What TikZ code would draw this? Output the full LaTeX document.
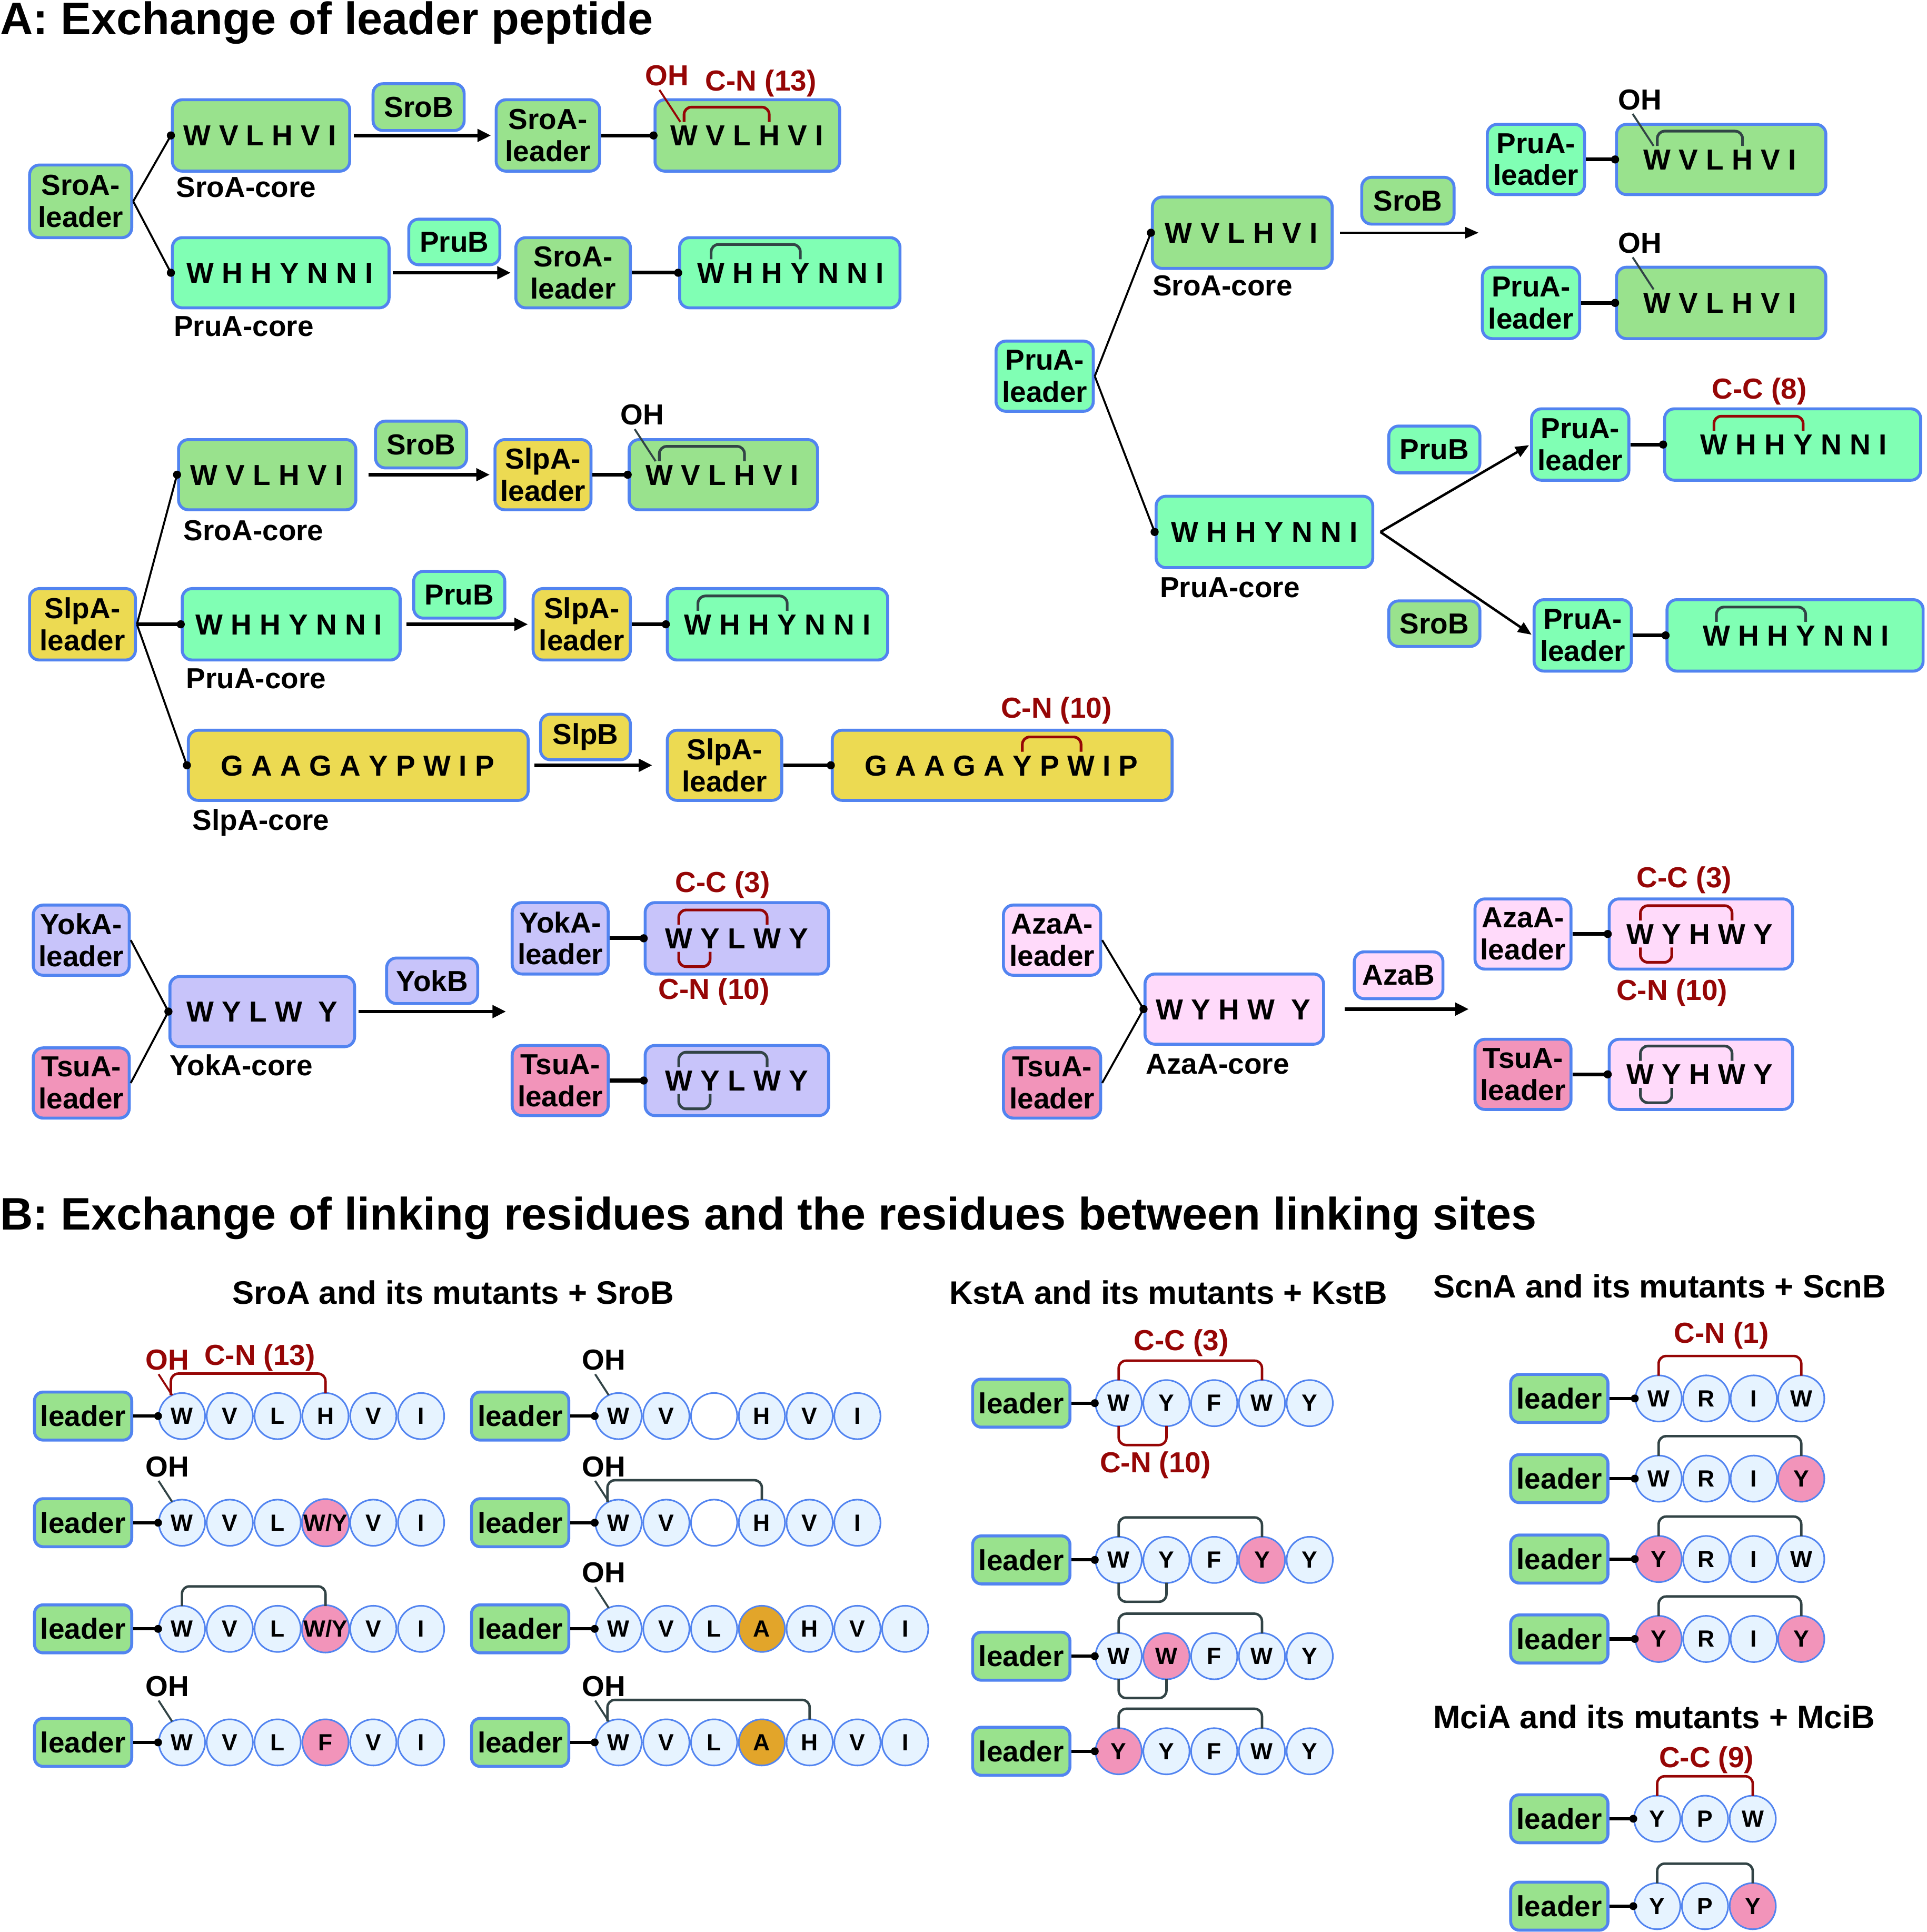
\documentclass[tikz,border=0pt]{standalone}
\usepackage{fontspec}
\setmainfont{Liberation Sans}
\usetikzlibrary{calc,arrows.meta}
\definecolor{bblue}{RGB}{82,132,240}
\definecolor{cgreen}{RGB}{153,226,141}
\definecolor{cmint}{RGB}{128,255,180}
\definecolor{cyellow}{RGB}{236,218,82}
\definecolor{clav}{RGB}{200,196,250}
\definecolor{cpinkl}{RGB}{255,218,250}
\definecolor{cpink}{RGB}{242,148,186}
\definecolor{corange}{RGB}{226,165,42}
\definecolor{ccirc}{RGB}{230,243,255}
\definecolor{dred}{RGB}{150,6,6}
\definecolor{dgray}{RGB}{50,68,70}
\newcommand\fA{\fontsize{23.5}{26}\selectfont\bfseries}
\newcommand\fT{\fontsize{37}{40}\selectfont\bfseries}
\newcommand\fS{\fontsize{26.4}{30}\selectfont\bfseries}
\newcommand\fC{\fontsize{19}{20}\selectfont\bfseries}
\newcommand\WY{W/Y}
% box by corners
\newcommand\BOX[7]{%
  \pgfmathsetmacro\bw{#5-#3}\pgfmathsetmacro\bh{#6-#4}%
  \node[box,fill=#2,minimum width=\bw pt,minimum height=\bh pt] (#1) at ({(#3+#5)/2},{(#4+#6)/2}) {#7};}
% peptide letters
\newcommand\PEP[4]{%
  \foreach \L [count=\i] in {#4} {%
    \ifnum\i=1\relax
      \node[pl,anchor=base west] (#1-\i) at (#2,#3+8.4) {\L};
    \else
      \pgfmathtruncatemacro\j{\i-1}%
      \node[pl,anchor=base west] (#1-\i) at ([xshift=6.53pt]#1-\j.base east) {\L};
    \fi}}
\newcommand\ATop[5]{%
  \draw[arcA,draw=#1] let \p1=(#2-#3.center),\p2=(#2-#4.center) in
    (\x1,{-(#5-11)*1pt}) -- (\x1,{-(#5-23)*1pt}) -- (\x2,{-(#5-23)*1pt}) -- (\x2,{-(#5-11)*1pt});}
\newcommand\ABot[5]{%
  \draw[arcA,draw=#1] let \p1=(#2-#3.center),\p2=(#2-#4.center) in
    (\x1,{-(#5+11)*1pt}) -- (\x1,{-(#5+23)*1pt}) -- (\x2,{-(#5+23)*1pt}) -- (\x2,{-(#5+11)*1pt});}
\newcommand\AOH[4]{%
  \path let \p1=(#3.center) in node[lbl,text=#1] (#3oh) at (\x1-14pt,{-(#4-48.5)*1pt}) {OH};
  \draw[ohline,draw=#2] let \p1=(#3.center) in (\x1-20pt,{-(#4-37)*1pt}) -- (\x1-3pt,{-(#4-11)*1pt});}
% part B
\newcommand\ROW[6]{%
  \node[leaderB] (#1-L) at (#2+39.5,#3) {leader};
  \foreach \L/\F [count=\i] in {#6} {%
    \node[circ,fill=\F] (#1-\i) at ({#4+(\i-1)*#5},#3) {\L};}
  \draw[conB] (#1-L.east) -- (#1-1.west);
  \fill (#1-1.west) circle (3.2pt);}
\newcommand\BTop[5]{%
  \draw[arcB,draw=#1] let \p1=(#2-#3.center),\p2=(#2-#4.center) in
    (\x1,{-(#5-18.5)*1pt}) -- (\x1,{-(#5-34.5)*1pt}) -- (\x2,{-(#5-34.5)*1pt}) -- (\x2,{-(#5-18.5)*1pt});}
\newcommand\BTopOH[5]{%
  \draw[arcB,draw=#1] let \p1=(#2-#3.center),\p2=(#2-#4.center) in
    (\x1-9pt,{-(#5-17)*1pt}) -- (\x1-9pt,{-(#5-34.5)*1pt}) -- (\x2,{-(#5-34.5)*1pt}) -- (\x2,{-(#5-18.5)*1pt});}
\newcommand\BBot[5]{%
  \draw[arcB,draw=#1] let \p1=(#2-#3.center),\p2=(#2-#4.center) in
    (\x1,{-(#5+18.5)*1pt}) -- (\x1,{-(#5+34)*1pt}) -- (\x2,{-(#5+34)*1pt}) -- (\x2,{-(#5+18.5)*1pt});}
\newcommand\BOH[4]{%
  \path let \p1=(#3-1.center) in node[lbl,text=#1] (#3-oh) at (\x1-12pt,{-(#4-45.5)*1pt}) {OH};
  \draw[ohline,draw=#2] let \p1=(#3-1.center) in (\x1-19pt,{-(#4-34)*1pt}) -- (\x1-8pt,{-(#4-17)*1pt});}

\begin{document}
\begin{tikzpicture}[x=1pt,y=-1pt,
  box/.style={draw=bblue,line width=2.4pt,rounded corners=8pt,inner sep=0pt,align=center,font=\fA},
  pl/.style={inner sep=0pt,outer sep=0pt,font=\fA},
  lbl/.style={inner sep=0pt,font=\fA},
  redl/.style={lbl,text=dred},
  arcA/.style={line width=2.2pt,rounded corners=6pt},
  arcB/.style={line width=2pt,rounded corners=6pt},
  ohline/.style={line width=1.6pt},
  tree/.style={line width=1.6pt},
  conn/.style={line width=3pt},
  arr/.style={line width=2.8pt,-{Triangle[length=11pt,width=10pt]}},
  arrt/.style={line width=2pt,-{Triangle[length=11pt,width=9pt]}},
  leaderB/.style={box,fill=cgreen,minimum width=79pt,minimum height=39pt,rounded corners=7pt},
  circ/.style={circle,draw=bblue,line width=1.3pt,minimum size=37.5pt,inner sep=0pt,font=\fC},
  conB/.style={line width=2.6pt}]
\useasboundingbox (0,0) rectangle (1565,1569);

% ================= A =================
\node[anchor=base west,inner sep=0pt,font=\fT] (tA) at (0,28) {A: Exchange of leader peptide};

% ---- SroA group
\BOX{aL}{cgreen}{24}{134}{107}{193}{SroA-\\leader}
\BOX{aC1}{cgreen}{140}{81}{284}{139}{}
\PEP{aC1}{149.2}{110}{W,V,L,H,V,I}
\BOX{aE1}{cgreen}{303}{68}{377}{106}{SroB}
\BOX{aL1}{cgreen}{403}{81}{487}{139}{SroA-\\leader}
\BOX{aP1}{cgreen}{532}{81}{682}{139}{}
\PEP{aP1}{544.5}{110}{W,V,L,H,V,I}
\BOX{aC2}{cmint}{140}{193}{316}{250}{}
\PEP{aC2}{151.7}{221.5}{W,H,H,Y,N,N,I}
\BOX{aE2}{cmint}{332}{178}{406}{215}{PruB}
\BOX{aL2}{cgreen}{419}{193}{512}{250}{SroA-\\leader}
\BOX{aP2}{cmint}{552}{193}{731}{250}{}
\PEP{aP2}{566.5}{221.5}{W,H,H,Y,N,N,I}
\node[lbl] (aC1t) at (200,152) {SroA-core};
\node[lbl] (aC2t) at (198,265) {PruA-core};
\draw[tree] (aL.east) -- (aC1.west);
\draw[tree] (aL.east) -- (aC2.west);
\fill (aC1.west) circle (3.3pt);
\fill (aC2.west) circle (3.3pt);
\draw[arr,shorten <=2pt,shorten >=3pt] (aC1.east) -- (aL1.west);
\draw[arr,shorten <=2pt,shorten >=3pt] (aC2.east) -- (aL2.west);
\draw[conn] (aL1.east) -- (aP1.west); \fill (aP1.west) circle (3.3pt);
\draw[conn] (aL2.east) -- (aP2.west); \fill (aP2.west) circle (3.3pt);
\ATop{dred}{aP1}{1}{4}{110}
\AOH{dred}{dred}{aP1-1}{110}
\node[redl] (aP1c) at (618,67.5) {C-N (13)};
\ATop{dgray}{aP2}{1}{4}{221.5}

% ---- PruA group
\BOX{bL}{cmint}{809}{277}{888}{334}{PruA-\\leader}
\BOX{bC1}{cgreen}{936}{160}{1082}{218}{}
\PEP{bC1}{946.3}{189}{W,V,L,H,V,I}
\BOX{bE1}{cgreen}{1106}{144}{1181}{182}{SroB}
\coordinate (bArr) at (1201,189);
\BOX{bL1}{cmint}{1208}{101}{1287}{158}{PruA-\\leader}
\BOX{bP1}{cgreen}{1313}{101}{1483}{158}{}
\PEP{bP1}{1335}{129.5}{W,V,L,H,V,I}
\BOX{bL2}{cmint}{1204}{217}{1283}{275}{PruA-\\leader}
\BOX{bP2}{cgreen}{1313}{217}{1483}{275}{}
\PEP{bP2}{1335}{246}{W,V,L,H,V,I}
\BOX{bC2}{cmint}{939}{403}{1115}{461}{}
\PEP{bC2}{951.2}{432}{W,H,H,Y,N,N,I}
\BOX{bE2}{cmint}{1128}{346}{1202}{384}{PruB}
\BOX{bE3}{cgreen}{1128}{488}{1202}{525}{SroB}
\BOX{bL3}{cmint}{1244}{332}{1323}{390}{PruA-\\leader}
\BOX{bP3}{cmint}{1352}{332}{1560}{390}{}
\PEP{bP3}{1381}{361}{W,H,H,Y,N,N,I}
\BOX{bL4}{cmint}{1246}{487}{1325}{545}{PruA-\\leader}
\BOX{bP4}{cmint}{1354}{487}{1562}{545}{}
\PEP{bP4}{1383}{516}{W,H,H,Y,N,N,I}
\node[lbl] (bC1t) at (993,232) {SroA-core};
\node[lbl] (bC2t) at (999,477) {PruA-core};
\draw[tree] (bL.east) -- (bC1.west);
\draw[tree] (bL.east) -- (bC2.west);
\fill (bC1.west) circle (3.3pt);
\fill (bC2.west) circle (3.3pt);
\draw[arrt,shorten <=5pt] (bC1.east) -- (bArr);
\coordinate (bFork) at ([xshift=5pt]bC2.east);
\draw[arrt,shorten >=1pt] (bFork) -- (bL3.west);
\draw[arrt,shorten >=1pt] (bFork) -- (bL4.west);
\draw[conn] (bL1.east) -- (bP1.west); \fill (bP1.west) circle (3.3pt);
\draw[conn] (bL2.east) -- (bP2.west); \fill (bP2.west) circle (3.3pt);
\draw[conn] (bL3.east) -- (bP3.west); \fill (bP3.west) circle (3.3pt);
\draw[conn] (bL4.east) -- (bP4.west); \fill (bP4.west) circle (3.3pt);
\ATop{dgray}{bP1}{1}{4}{129.5}
\AOH{black}{dgray}{bP1-1}{129.5}
\AOH{black}{dgray}{bP2-1}{246}
\ATop{dred}{bP3}{1}{4}{361}
\node[redl] (bP3c) at (1429,317.7) {C-C (8)};
\ATop{dgray}{bP4}{1}{4}{516}

% ---- SlpA group
\BOX{cL}{cyellow}{24}{478}{110}{536}{SlpA-\\leader}
\BOX{cC1}{cgreen}{145}{357}{289}{414}{}
\PEP{cC1}{154.5}{385.5}{W,V,L,H,V,I}
\BOX{cE1}{cgreen}{305}{342}{379}{380}{SroB}
\BOX{cL1}{cyellow}{402}{357}{480}{414}{SlpA-\\leader}
\BOX{cP1}{cgreen}{511}{357}{664}{414}{}
\PEP{cP1}{524.4}{385.5}{W,V,L,H,V,I}
\BOX{cC2}{cmint}{148}{478}{325}{536}{}
\PEP{cC2}{158.8}{507}{W,H,H,Y,N,N,I}
\BOX{cE2}{cmint}{336}{464}{410}{502}{PruB}
\BOX{cL2}{cyellow}{433}{478}{512}{536}{SlpA-\\leader}
\BOX{cP2}{cmint}{542}{478}{721}{536}{}
\PEP{cP2}{555.8}{507}{W,H,H,Y,N,N,I}
\BOX{cC3}{cyellow}{153}{593}{429}{650}{}
\PEP{cC3}{179.5}{621.5}{G,A,A,G,A,Y,P,W,I,P}
\BOX{cE3}{cyellow}{439}{580}{512}{617}{SlpB}
\BOX{cL3}{cyellow}{542}{593}{635}{650}{SlpA-\\leader}
\BOX{cP3}{cyellow}{676}{593}{952}{650}{}
\PEP{cP3}{702.4}{621.5}{G,A,A,G,A,Y,P,W,I,P}
\node[lbl] (cC1t) at (206,431) {SroA-core};
\node[lbl] (cC2t) at (208,551) {PruA-core};
\node[lbl] (cC3t) at (212,668) {SlpA-core};
\draw[tree] (cL.east) -- (cC1.west);
\draw[conn] (cL.east) -- (cC2.west);
\draw[tree] (cL.east) -- (cC3.west);
\fill (cC1.west) circle (3.3pt);
\fill (cC2.west) circle (3.3pt);
\fill (cC3.west) circle (3.3pt);
\draw[arr,shorten <=9pt,shorten >=3pt] (cC1.east) -- (cL1.west);
\draw[arr,shorten <=4pt,shorten >=3pt] (cC2.east) -- (cL2.west);
\draw[arr,shorten <=4pt,shorten >=11pt] (cC3.east) -- (cL3.west);
\draw[conn] (cL1.east) -- (cP1.west); \fill (cP1.west) circle (3.3pt);
\draw[conn] (cL2.east) -- (cP2.west); \fill (cP2.west) circle (3.3pt);
\draw[conn] (cL3.east) -- (cP3.west); \fill (cP3.west) circle (3.3pt);
\ATop{dgray}{cP1}{1}{4}{385.5}
\AOH{black}{dgray}{cP1-1}{385.5}
\ATop{dgray}{cP2}{1}{4}{507}
\ATop{dred}{cP3}{6}{8}{621.5}
\node[redl] (cP3c) at (858,577.2) {C-N (10)};

% ---- YokA group
\BOX{dL1}{clav}{27}{735}{105}{792}{YokA-\\leader}
\BOX{dL2}{cpink}{27}{851}{105}{908}{TsuA-\\leader}
\BOX{dC}{clav}{138}{793}{288}{850}{}
\PEP{dC}{151.5}{821.5}{W,Y,L,W,\hspace{6.5pt}Y}
\BOX{dE}{clav}{314}{778}{388}{815}{YokB}
\BOX{dL3}{clav}{416}{733}{494}{791}{YokA-\\leader}
\BOX{dP1}{clav}{524}{733}{673}{791}{}
\PEP{dP1}{540.2}{762}{W,Y,L,W,Y}
\BOX{dL4}{cpink}{416}{849}{494}{906}{TsuA-\\leader}
\BOX{dP2}{clav}{524}{849}{673}{906}{}
\PEP{dP2}{540.2}{877.5}{W,Y,L,W,Y}
\node[lbl] (dCt) at (196,865) {YokA-core};
\draw[tree] (dL1.east) -- (dC.west);
\draw[tree] (dL2.east) -- (dC.west);
\fill (dC.west) circle (3.3pt);
\coordinate (dArr) at (411,821.5);
\draw[arr,shorten <=2pt] (dC.east) -- (dArr);
\draw[conn] (dL3.east) -- (dP1.west); \fill (dP1.west) circle (3.3pt);
\draw[conn] (dL4.east) -- (dP2.west); \fill (dP2.west) circle (3.3pt);
\ATop{dred}{dP1}{1}{4}{762}
\ABot{dred}{dP1}{1}{2}{762}
\node[redl] (dP1c) at (587,718.5) {C-C (3)};
\node[redl] (dP1n) at (580,805.5) {C-N (10)};
\ATop{dgray}{dP2}{1}{4}{877.5}
\ABot{dgray}{dP2}{1}{2}{877.5}

% ---- AzaA group
\BOX{eL1}{cpinkl}{815}{735}{894}{792}{AzaA-\\leader}
\BOX{eL2}{cpink}{815}{851}{894}{908}{TsuA-\\leader}
\BOX{eC}{cpinkl}{930}{791}{1075}{848}{}
\PEP{eC}{939}{819.5}{W,Y,H,W,\hspace{6.5pt}Y}
\BOX{eE}{cpinkl}{1100}{773}{1172}{811}{AzaB}
\BOX{eL3}{cpinkl}{1198}{730}{1276}{787}{AzaA-\\leader}
\BOX{eP1}{cpinkl}{1307}{730}{1456}{787}{}
\PEP{eP1}{1321.3}{758.5}{W,Y,H,W,Y}
\BOX{eL4}{cpink}{1198}{844}{1276}{901}{TsuA-\\leader}
\BOX{eP2}{cpinkl}{1307}{844}{1456}{901}{}
\PEP{eP2}{1321.3}{872.5}{W,Y,H,W,Y}
\node[lbl] (eCt) at (989,864) {AzaA-core};
\draw[tree] (eL1.east) -- (eC.west);
\draw[tree] (eL2.east) -- (eC.west);
\fill (eC.west) circle (3.3pt);
\coordinate (eArr) at (1193,819.5);
\draw[arr,shorten <=16pt] (eC.east) -- (eArr);
\draw[conn] (eL3.east) -- (eP1.west); \fill (eP1.west) circle (3.3pt);
\draw[conn] (eL4.east) -- (eP2.west); \fill (eP2.west) circle (3.3pt);
\ATop{dred}{eP1}{1}{4}{758.5}
\ABot{dred}{eP1}{1}{2}{758.5}
\node[redl] (eP1c) at (1368,714.8) {C-C (3)};
\node[redl] (eP1n) at (1358,806.3) {C-N (10)};
\ATop{dgray}{eP2}{1}{4}{872.5}
\ABot{dgray}{eP2}{1}{2}{872.5}

% ================= B =================
\node[anchor=base west,inner sep=0pt,font=\fT] (tB) at (0,998.7) {B: Exchange of linking residues and the residues between linking sites};
\node[anchor=base,inner sep=0pt,font=\fS] (sB1) at (368,1059) {SroA and its mutants + SroB};
\node[anchor=base,inner sep=0pt,font=\fS] (sB2) at (949,1059) {KstA and its mutants + KstB};
\node[anchor=base,inner sep=0pt,font=\fS] (sB3) at (1348,1054) {ScnA and its mutants + ScnB};
\node[anchor=base,inner sep=0pt,font=\fS] (sB4) at (1343.5,1403.5) {MciA and its mutants + MciB};

% SroA mutants, left column
\ROW{s1}{28}{1150}{147.8}{38.85}{W/ccirc,V/ccirc,L/ccirc,H/ccirc,V/ccirc,I/ccirc}
\ROW{s2}{28}{1236.6}{147.8}{38.85}{W/ccirc,V/ccirc,L/ccirc,\WY/cpink,V/ccirc,I/ccirc}
\ROW{s3}{28}{1322.8}{147.8}{38.85}{W/ccirc,V/ccirc,L/ccirc,\WY/cpink,V/ccirc,I/ccirc}
\ROW{s4}{28}{1415}{147.8}{38.85}{W/ccirc,V/ccirc,L/ccirc,F/cpink,V/ccirc,I/ccirc}
\BOH{dred}{dred}{s1}{1150}
\BTopOH{dred}{s1}{1}{4}{1150}
\node[redl] (s1c) at (211,1102.5) {C-N (13)};
\BOH{black}{dgray}{s2}{1236.6}
\BTop{dgray}{s3}{1}{4}{1322.8}
\BOH{black}{dgray}{s4}{1415}
% right column
\ROW{t1}{383}{1150}{502.4}{38.8}{W/ccirc,V/ccirc,{}/white,H/ccirc,V/ccirc,I/ccirc}
\ROW{t2}{383}{1236.6}{502.4}{38.8}{W/ccirc,V/ccirc,{}/white,H/ccirc,V/ccirc,I/ccirc}
\ROW{t3}{383}{1322.8}{502.4}{38.8}{W/ccirc,V/ccirc,L/ccirc,A/corange,H/ccirc,V/ccirc,I/ccirc}
\ROW{t4}{383}{1415}{502.4}{38.8}{W/ccirc,V/ccirc,L/ccirc,A/corange,H/ccirc,V/ccirc,I/ccirc}
\BOH{black}{dgray}{t1}{1150}
\BOH{black}{dgray}{t2}{1236.6}
\BTopOH{dgray}{t2}{1}{4}{1236.6}
\BOH{black}{dgray}{t3}{1322.8}
\BOH{black}{dgray}{t4}{1415}
\BTopOH{dgray}{t4}{1}{5}{1415}

% KstA
\ROW{k1}{790}{1139.5}{908.6}{38.8}{W/ccirc,Y/ccirc,F/ccirc,W/ccirc,Y/ccirc}
\ROW{k2}{790}{1266.8}{908.6}{38.8}{W/ccirc,Y/ccirc,F/ccirc,Y/cpink,Y/ccirc}
\ROW{k3}{790}{1345}{908.6}{38.8}{W/ccirc,W/cpink,F/ccirc,W/ccirc,Y/ccirc}
\ROW{k4}{790}{1422.2}{908.6}{38.8}{Y/cpink,Y/ccirc,F/ccirc,W/ccirc,Y/ccirc}
\BTop{dred}{k1}{1}{4}{1139.5}
\BBot{dred}{k1}{1}{2}{1139.5}
\node[redl] (k1c) at (959.5,1090.4) {C-C (3)};
\node[redl] (k1n) at (938.4,1190) {C-N (10)};
\BTop{dgray}{k2}{1}{4}{1266.8}
\BBot{dgray}{k2}{1}{2}{1266.8}
\BTop{dgray}{k3}{1}{4}{1345}
\BBot{dgray}{k3}{1}{2}{1345}
\BTop{dgray}{k4}{1}{4}{1422.2}

% ScnA
\ROW{n1}{1227}{1135.7}{1347.2}{38.6}{W/ccirc,R/ccirc,I/ccirc,W/ccirc}
\ROW{n2}{1227}{1200.8}{1347.2}{38.6}{W/ccirc,R/ccirc,I/ccirc,Y/cpink}
\ROW{n3}{1227}{1266.1}{1347.2}{38.6}{Y/cpink,R/ccirc,I/ccirc,W/ccirc}
\ROW{n4}{1227}{1331}{1347.2}{38.6}{Y/cpink,R/ccirc,I/ccirc,Y/cpink}
\BTop{dred}{n1}{1}{4}{1135.7}
\node[redl] (n1c) at (1398.2,1084.7) {C-N (1)};
\BTop{dgray}{n2}{1}{4}{1200.8}
\BTop{dgray}{n3}{1}{4}{1266.1}
\BTop{dgray}{n4}{1}{4}{1331}

% MciA
\ROW{m1}{1227}{1477}{1346}{38.8}{Y/ccirc,P/ccirc,W/ccirc}
\ROW{m2}{1227}{1548}{1346}{38.8}{Y/ccirc,P/ccirc,Y/cpink}
\BTop{dred}{m1}{1}{3}{1477}
\node[redl] (m1c) at (1386,1429.2) {C-C (9)};
\BTop{dgray}{m2}{1}{3}{1548}
\end{tikzpicture}
\end{document}
